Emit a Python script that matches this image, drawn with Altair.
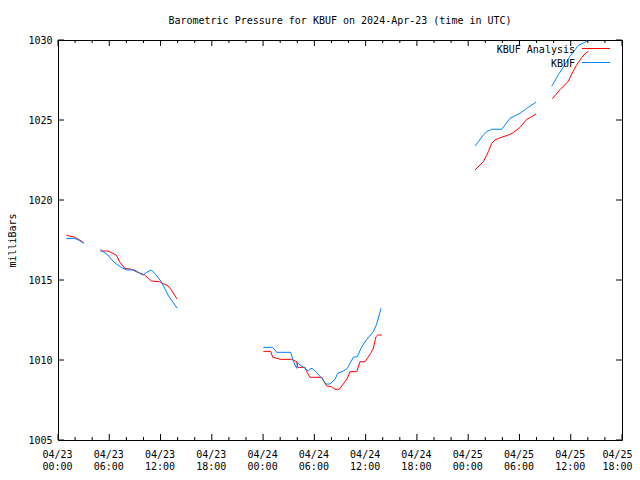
import json
import altair as alt
import pandas as pd

# ---- data (hours since 2024-04-23 00:00 UTC, mb) ----
red_seg1_h = [0.97, 1.36, 1.95, 2.54, 3.0]
red_seg1_v = [1017.81, 1017.75, 1017.67, 1017.5, 1017.33]
blue_seg1_h = [0.97, 1.95, 2.54, 3.0]
blue_seg1_v = [1017.6, 1017.6, 1017.46, 1017.29]

red_seg2_h = [4.95, 5.85, 6.82, 7.22, 7.8, 8.58, 9.16, 10.15, 10.92, 11.9, 12.87, 13.26, 13.93]
red_seg2_v = [1016.81, 1016.81, 1016.56, 1016.14, 1015.73, 1015.67, 1015.52, 1015.31, 1014.94,
              1014.89, 1014.63, 1014.38, 1013.81]
blue_seg2_h = [4.95, 5.27, 5.85, 6.24, 6.82, 7.41, 7.99, 8.98, 9.56, 9.95, 10.33, 10.92, 11.5,
               12.09, 12.49, 12.87, 13.26, 13.96]
blue_seg2_v = [1016.92, 1016.77, 1016.56, 1016.29, 1016.0, 1015.79, 1015.63, 1015.63, 1015.42,
               1015.31, 1015.46, 1015.63, 1015.31, 1014.89, 1014.48, 1014.06, 1013.75, 1013.23]

red_seg3_h = [24.03, 24.89, 25.13, 26.06, 27.35, 27.93, 28.05, 28.91, 29.1, 29.49, 30.86, 31.24,
              31.45, 32.03, 32.42, 32.92, 33.39, 33.86, 34.17, 34.96, 35.34, 35.93, 36.6, 36.9,
              37.21, 37.41, 37.88]
red_seg3_v = [1010.54, 1010.54, 1010.17, 1010.04, 1010.04, 1009.89, 1009.54, 1009.54, 1009.27,
              1008.92, 1008.92, 1008.54, 1008.38, 1008.33, 1008.17, 1008.17, 1008.5, 1008.86,
              1009.27, 1009.27, 1009.89, 1009.89, 1010.42, 1010.73, 1011.46, 1011.56, 1011.56]
blue_seg3_h = [24.03, 25.13, 25.59, 27.23, 27.47, 27.74, 27.93, 28.05, 28.32, 28.91, 29.29, 29.61,
               29.88, 30.27, 30.86, 31.36, 31.83, 32.42, 32.73, 33.39, 33.86, 34.17, 34.56, 35.03,
               35.54, 36.13, 36.9, 37.3, 37.8]
blue_seg3_v = [1010.79, 1010.79, 1010.48, 1010.48, 1010.04, 1009.69, 1009.48, 1009.83, 1009.69,
               1009.48, 1009.31, 1009.48, 1009.42, 1009.21, 1008.86, 1008.5, 1008.5, 1008.79,
               1009.17, 1009.31, 1009.48, 1009.79, 1010.17, 1010.21, 1010.83, 1011.29, 1011.77,
               1012.25, 1013.23]

red_seg4_h = [48.8, 49.77, 50.36, 50.75, 51.14, 51.73, 52.7, 53.28, 54.07, 54.85, 55.44, 55.94]
red_seg4_v = [1021.88, 1022.39, 1023.02, 1023.54, 1023.75, 1023.89, 1024.06, 1024.21, 1024.54,
              1025.04, 1025.21, 1025.38]
blue_seg4_h = [48.8, 49.19, 49.77, 50.17, 50.75, 51.92, 52.31, 52.9, 53.28, 54.07, 54.85, 55.94]
blue_seg4_v = [1023.38, 1023.64, 1024.06, 1024.27, 1024.42, 1024.42, 1024.69, 1025.11, 1025.21,
               1025.42, 1025.73, 1026.11]

red_seg5_h = [57.85, 58.75, 59.72, 60.12, 60.7, 61.29, 61.76, 62.07]
red_seg5_v = [1026.33, 1026.89, 1027.42, 1027.88, 1028.45, 1028.9, 1029.19, 1029.29]
blue_seg5_h = [57.78, 58.55, 59.33, 59.92, 60.5, 60.89, 61.47, 61.99]
blue_seg5_v = [1027.11, 1027.83, 1028.46, 1028.98, 1029.39, 1029.67, 1029.81, 1029.96]

series_names = ["KBUF Analysis", "KBUF"]
series_colors = ["#ff0000", "#0080ff"]

x_major = list(range(0, 67, 6))
x_minor = [h for h in range(0, 67, 2) if h % 6 != 0]
date_labels = ["04/23"] * 4 + ["04/24"] * 4 + ["04/25"] * 4
time_labels = ["00:00", "06:00", "12:00", "18:00"] * 3
y_major = [1005, 1010, 1015, 1020, 1025, 1030]

# ---- build tables ----
rows = []
red = [(red_seg1_h, red_seg1_v), (red_seg2_h, red_seg2_v), (red_seg3_h, red_seg3_v),
       (red_seg4_h, red_seg4_v), (red_seg5_h, red_seg5_v)]
blue = [(blue_seg1_h, blue_seg1_v), (blue_seg2_h, blue_seg2_v), (blue_seg3_h, blue_seg3_v),
        (blue_seg4_h, blue_seg4_v), (blue_seg5_h, blue_seg5_v)]
for name, segs in zip(series_names, [red, blue]):
    for i, (hs, vs) in enumerate(segs):
        for k, (h, v) in enumerate(zip(hs, vs)):
            rows.append({"series": name, "seg": f"{name}-{i}", "hour": h, "value": v, "order": k})
df = pd.DataFrame(rows)

FONT = "DejaVu Sans Mono"
W, H = 564, 400

xscale = alt.Scale(domain=[0, 66], nice=False, zero=False)
yscale = alt.Scale(domain=[1005, 1030], nice=False, zero=False)

label_expr = (f"[{json.dumps(date_labels)}[round(datum.value/6)], "
              f"{json.dumps(time_labels)}[round(datum.value/6)]]")
xaxis = alt.Axis(values=x_major, labelExpr=label_expr, ticks=False, domain=False, grid=False,
                 title=None, labelFont=FONT, labelFontSize=10, labelColor="black",
                 labelPadding=9, labelLineHeight=12, labelBaseline="top", labelFlush=False,
                 labelOverlap=False,
                 labelOffset=alt.condition("datum.value >= 66", alt.value(-5), alt.value(-1)))
yaxis = alt.Axis(values=y_major, format="d", ticks=False, domain=False, grid=False,
                 title="milliBars",
                 labelFont=FONT, labelFontSize=10, labelColor="black", labelPadding=6,
                 titleFont=FONT, titleFontSize=10, titleFontWeight="normal", titleColor="black",
                 titleAngle=-90, titleX=-46, titleY=200, titleAlign="center",
                 titleBaseline="middle", labelFlush=False)

X = alt.X("hour:Q", scale=xscale, axis=xaxis)
Y = alt.Y("value:Q", scale=yscale, axis=yaxis)

lines = alt.Chart(df).mark_line(strokeWidth=1, clip=True).encode(
    x=X, y=Y,
    color=alt.Color("series:N", scale=alt.Scale(domain=series_names, range=series_colors),
                    legend=None),
    detail="seg:N",
    order="order:Q",
)

xmaj_df = pd.DataFrame({"hour": x_major})
xmin_df = pd.DataFrame({"hour": x_minor})
ymaj_df = pd.DataFrame({"value": y_major})

tick_style = dict(color="black", strokeWidth=1)
xmaj_bottom = alt.Chart(xmaj_df).mark_rule(**tick_style).encode(x=X, y=alt.value(H), y2=alt.value(H - 6))
xmaj_top = alt.Chart(xmaj_df).mark_rule(**tick_style).encode(x=X, y=alt.value(0), y2=alt.value(6))
xmin_bottom = alt.Chart(xmin_df).mark_rule(**tick_style).encode(x=X, y=alt.value(H), y2=alt.value(H - 3))
xmin_top = alt.Chart(xmin_df).mark_rule(**tick_style).encode(x=X, y=alt.value(0), y2=alt.value(3))
y_left = alt.Chart(ymaj_df).mark_rule(**tick_style).encode(y=Y, x=alt.value(0), x2=alt.value(6))
y_right = alt.Chart(ymaj_df).mark_rule(**tick_style).encode(y=Y, x=alt.value(W), x2=alt.value(W - 6))

# legend (gnuplot style: text then line sample), one layer per entry, one row each
legend_layers = []
for i, (name, col) in enumerate(zip(series_names, series_colors)):
    ypos = 8.5 + 14 * i
    leg_df = pd.DataFrame({"series": [name]})
    legend_layers.append(
        alt.Chart(leg_df).mark_text(align="right", baseline="middle", font=FONT, fontSize=10,
                                    color="black", dy=1.5).encode(
            x=alt.value(517), y=alt.value(ypos), text="series:N"))
    legend_layers.append(
        alt.Chart(leg_df).mark_rule(strokeWidth=1, color=col).encode(
            x=alt.value(524), x2=alt.value(552), y=alt.value(ypos)))

chart = alt.layer(
    lines, xmaj_bottom, xmaj_top, xmin_bottom, xmin_top, y_left, y_right, *legend_layers
).properties(
    width=W, height=H,
    title=alt.TitleParams("Barometric Pressure for KBUF on 2024-Apr-23 (time in UTC)",
                          font=FONT, fontSize=10, fontWeight="normal", color="black",
                          anchor="middle", offset=9),
    autosize=alt.AutoSizeParams(type="none"),
    padding={"left": 50, "top": 32, "right": 10, "bottom": 30},
    background="white",
).configure_view(stroke="black", strokeWidth=1)

chart.save("out.html", embed_options={"renderer": "svg", "actions": False})
